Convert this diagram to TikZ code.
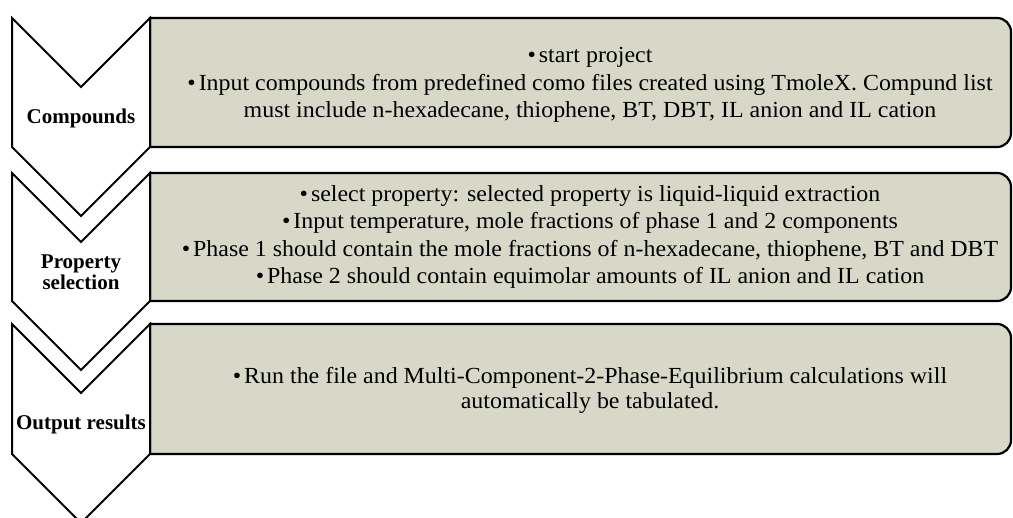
\documentclass[tikz,border=0pt]{standalone}
\usepackage{fontspec}
\setmainfont{Liberation Serif}
\newfontfamily\panelfont[FakeStretch=1.04]{Liberation Serif}
\usepackage{xcolor}
\usepackage{tikz}
\definecolor{panelfill}{RGB}{216,216,201}

\begin{document}
\begin{tikzpicture}[
        x=1pt, y=1pt,
        chev/.style={draw=black, line width=2pt, fill=white, line join=miter},
        panel/.style={draw=black, line width=2.2pt, fill=panelfill},
        lbl/.style={align=center, font=\fontsize{21}{21}\selectfont\bfseries},
        txt/.style={align=center, font=\panelfont\fontsize{23}{27.5}\selectfont},
      ]

      \useasboundingbox (0,0) rectangle (1013,-518);
      \clip (0,0) rectangle (1013,-518);

      % panels and chevrons, top / bottom of each row
      \foreach \t/\b in {18/147, 173/301, 324/454} {
        \draw[panel] (150,-\t) -- (997,-\t)
          arc[start angle=90, end angle=0, radius=14]
          -- (1011,-\b+14)
          arc[start angle=0, end angle=-90, radius=14]
          -- (150,-\b) -- cycle;
        \draw[chev] (12,-\t) -- (81,-\t-69) -- (150,-\t)
          -- (150,-\b) -- (81,-\b-69) -- (12,-\b) -- cycle;
      }

      \node[lbl] (cmp) at (81,-118) {Compounds};
      \node[lbl] (prop) at (81,-272) {Property\\selection};
      \node[lbl] (out) at (81,-424) {Output results};

      \node[txt] (cmptxt) at (590,-85)
        {•\hspace{3pt}start project\\
         •\hspace{3pt}Input compounds from predefined como files created using TmoleX. Compund list\\
         must include n-hexadecane, thiophene, BT, DBT, IL anion and IL cation};
      \node[txt] (proptxt) at (590,-237)
        {•\hspace{3pt}select property: selected property is liquid-liquid extraction\\
         •\hspace{3pt}Input temperature, mole fractions of phase 1 and 2 components\\
         •\hspace{3pt}Phase 1 should contain the mole fractions of n-hexadecane, thiophene, BT and DBT\\
         •\hspace{3pt}Phase 2 should contain equimolar amounts of IL anion and IL cation};
      \node[txt, font=\panelfont\fontsize{23}{25}\selectfont] (outtxt) at (590,-390)
        {•\hspace{3pt}Run the file and Multi-Component-2-Phase-Equilibrium calculations will\\
         automatically be tabulated.};

    \end{tikzpicture}
\end{document}
